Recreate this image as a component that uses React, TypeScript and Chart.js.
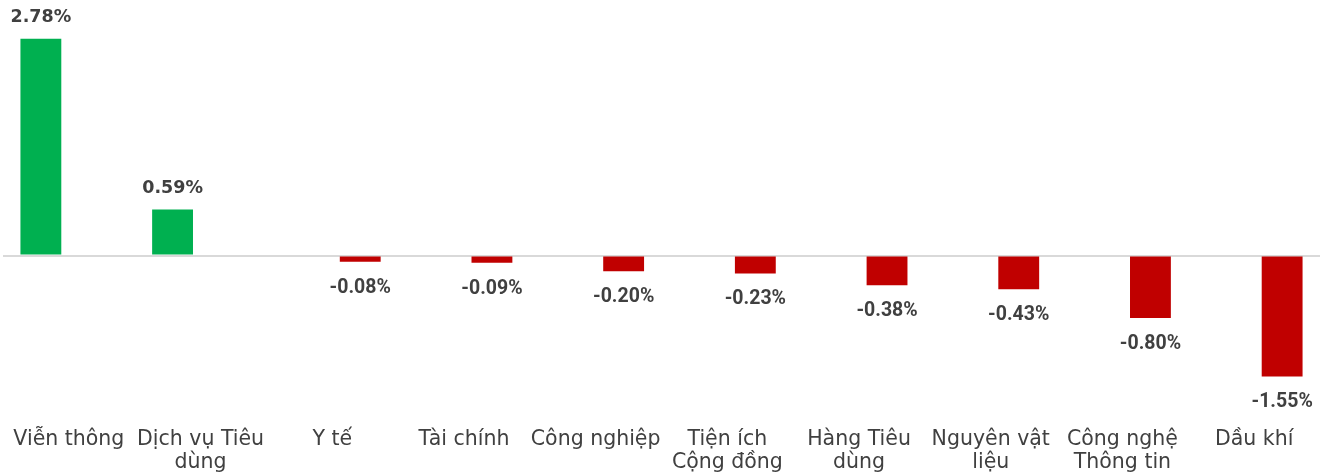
import React, { useEffect, useRef } from "react";
import { Chart, registerables } from "chart.js";

Chart.register(...registerables);

const categories: (string | string[])[] = [
  "Viễn thông",
  ["Dịch vụ Tiêu", "dùng"],
  "Y tế",
  "Tài chính",
  "Công nghiệp",
  ["Tiện ích", "Cộng đồng"],
  ["Hàng Tiêu", "dùng"],
  ["Nguyên vật", "liệu"],
  ["Công nghệ", "Thông tin"],
  "Dầu khí",
];
const changes: number[] = [2.78, 0.59, -0.08, -0.09, -0.2, -0.23, -0.38, -0.43, -0.8, -1.55];

const gains = changes.map((v) => (v >= 0 ? v : null));
const losses = changes.map((v) => (v < 0 ? v : null));

const POS_COLOR = "#00B050";
const NEG_COLOR = "#C00000";
const TEXT_COLOR = "#404040";

const labelPlugin = {
  id: "valueLabels",
  afterDatasetsDraw(chart: any) {
    const ctx = chart.ctx;
    ctx.save();
    ctx.textAlign = "center";
    ctx.textBaseline = "middle";
    ctx.fillStyle = TEXT_COLOR;
    chart.data.datasets.forEach((ds: any, di: number) => {
      const meta = chart.getDatasetMeta(di);
      meta.data.forEach((el: any, i: number) => {
        const v = ds.data[i];
        if (v === null || v === undefined) return;
        const txt = v.toFixed(2) + "%";
        if (v >= 0) {
          ctx.font = "bold 17.5px 'DejaVu Sans'";
          ctx.fillText(txt, el.x, el.y - 21.5);
        } else {
          ctx.font = "bold 19.5px Roboto";
          ctx.fillText(txt, el.x, el.y + 26);
        }
      });
    });
    ctx.restore();
  },
};

export default function App() {
  const ref = useRef<HTMLCanvasElement | null>(null);
  useEffect(() => {
    if (!ref.current) return;
    const chart = new Chart(ref.current, {
      type: "bar",
      data: {
        labels: categories as any,
        datasets: [
          {
            label: "Tăng",
            data: gains as any,
            backgroundColor: POS_COLOR,
            categoryPercentage: 0.85,
            barPercentage: 0.73,
          },
          {
            label: "Giảm",
            data: losses as any,
            backgroundColor: NEG_COLOR,
            categoryPercentage: 0.85,
            barPercentage: 0.73,
          },
        ],
      },
      options: {
        animation: false,
        responsive: false,
        maintainAspectRatio: false,
        layout: { padding: { top: 2, left: 3, right: 6, bottom: 0 } },
        plugins: { legend: { display: false }, tooltip: { enabled: false } },
        scales: {
          x: {
            type: "category",
            position: "bottom",
            grid: { display: false, drawTicks: false },
            border: { display: false },
            ticks: {
              autoSkip: false,
              maxRotation: 0,
              padding: 6,
              color: TEXT_COLOR,
              font: { family: "'DejaVu Sans'", size: 20.5, lineHeight: 1.12 },
            },
            afterFit: (s: any) => {
              s.height = 54;
            },
          },
          y: {
            min: -2.132,
            max: 3.25,
            ticks: { display: false, stepSize: 0.5 },
            border: { display: false },
            grid: {
              drawTicks: false,
              lineWidth: 2,
              color: (c: any) => (c.tick && c.tick.value === 0 ? "#D9D9D9" : "rgba(0,0,0,0)"),
            },
            afterFit: (s: any) => {
              s.width = 0;
            },
          },
        },
      },
      plugins: [labelPlugin],
    });
    return () => chart.destroy();
  }, []);
  return (
    <div style={{ position: "fixed", left: 0, top: 0, width: 1326, height: 476, background: "#fff" }}>
      <canvas ref={ref} width={1326} height={476} style={{ width: 1326, height: 476, display: "block" }} />
    </div>
  );
}
